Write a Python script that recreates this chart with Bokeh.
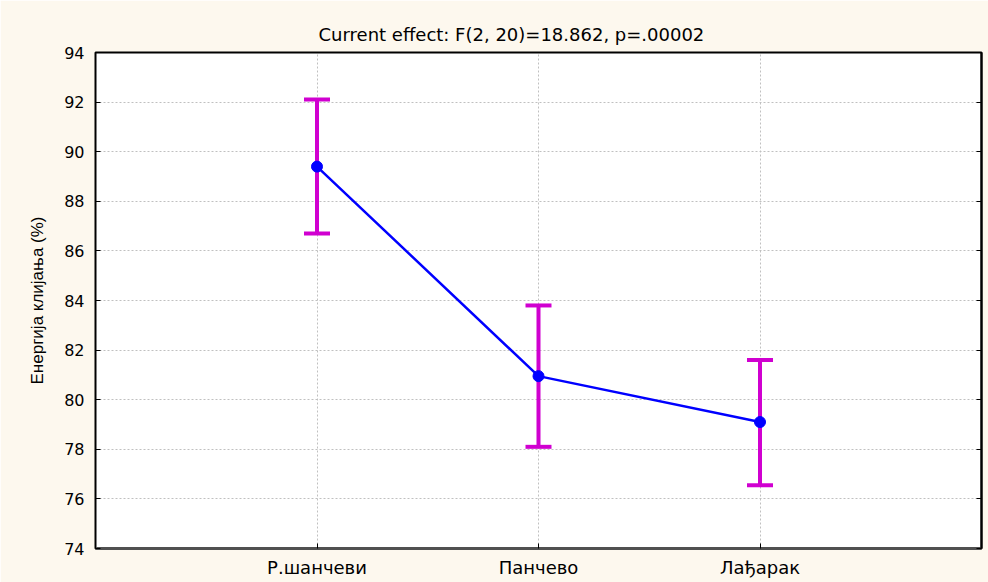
from bokeh.plotting import figure
from bokeh.models import FixedTicker, LinearAxis, Range1d, ColumnDataSource, Title
from bokeh.embed import file_html
from bokeh.resources import INLINE

categories = ["Р.шанчеви", "Панчево", "Лађарак"]
means = [89.4, 80.95, 79.1]
lower = [86.7, 78.1, 76.55]
upper = [92.1, 83.8, 81.6]
y_ticks = [74, 76, 78, 80, 82, 84, 86, 88, 90, 92, 94]
title_text = "Current effect: F(2, 20)=18.862, p=.00002"
y_label = "Енергија клијања (%)"

xpos = list(range(1, len(categories) + 1))
src = ColumnDataSource(dict(x=xpos, m=means, lo=lower, hi=upper))

p = figure(width=988, height=582, output_backend="svg", toolbar_location=None,
           x_range=Range1d(0, len(categories) + 1), y_range=Range1d(74, 94),
           min_border_left=95, min_border_top=52, min_border_right=7, min_border_bottom=34)
p.title = Title(text=title_text, align="left", offset=223, standoff=15,
                text_font="DejaVu Sans", text_font_size="18px",
                text_font_style="normal", text_color="#000000")
p.background_fill_color = "#ffffff"
p.border_fill_color = "#fdf8ee"
p.outline_line_color = "#000000"
p.outline_line_width = 2

font = "DejaVu Sans"
p.xaxis.ticker = FixedTicker(ticks=xpos)
p.xaxis.major_label_overrides = {i: c for i, c in zip(xpos, categories)}
p.yaxis.ticker = FixedTicker(ticks=y_ticks)
p.yaxis.axis_label = y_label
for ax in (p.xaxis, p.yaxis):
    ax.major_tick_in = 5
    ax.major_tick_out = 0
    ax.minor_tick_line_color = None
    ax.major_label_text_font = font
    ax.major_label_text_color = "#000000"
    ax.major_tick_line_color = "#000000"
    ax.axis_line_color = "#000000"
p.xaxis.major_label_text_font_size = "18px"
p.yaxis.major_label_text_font_size = "16px"
p.xaxis.axis_line_color = "#505050"
p.xaxis.axis_line_width = 3
p.xaxis.major_label_standoff = 8
p.yaxis.major_label_standoff = 11
p.yaxis.axis_label_text_font = "Liberation Sans"
p.yaxis.axis_label_text_font_size = "17px"
p.yaxis.axis_label_text_font_style = "normal"
p.yaxis.axis_label_text_color = "#000000"
p.yaxis.axis_label_standoff = 14

ra = LinearAxis(ticker=FixedTicker(ticks=y_ticks), major_label_text_font_size="0px",
                major_label_text_color=None, major_label_standoff=0,
                major_tick_in=5, major_tick_out=0, minor_tick_line_color=None,
                axis_line_color="#000000", axis_line_width=2)
p.add_layout(ra, "right")

p.xgrid.ticker = FixedTicker(ticks=xpos)
for g in (p.xgrid, p.ygrid):
    g.grid_line_color = "#c0c0c0"
    g.grid_line_dash = "2 2"
    g.grid_line_width = 1

p.segment(x0="x", y0="lo", x1="x", y1="hi", source=src, line_color="#d000d0", line_width=4)
p.rect(x="x", y="lo", width=26, height=4, width_units="screen", height_units="screen",
       source=src, fill_color="#d000d0", line_color=None)
p.rect(x="x", y="hi", width=26, height=4, width_units="screen", height_units="screen",
       source=src, fill_color="#d000d0", line_color=None)
p.line(x="x", y="m", source=src, line_color="#0000ff", line_width=2.5)
p.scatter(x="x", y="m", source=src, size=11, fill_color="#0000ff", line_color="#0000ff")

open("out.html", "w").write(file_html(p, INLINE))
